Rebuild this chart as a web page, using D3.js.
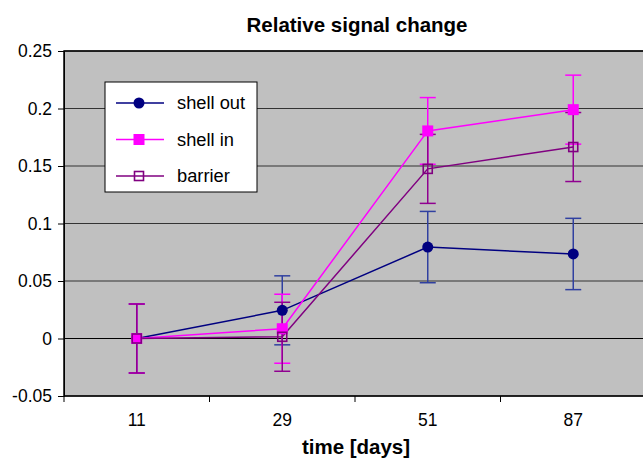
<!DOCTYPE html>
<html><head><meta charset="utf-8">
<script src="https://cdn.jsdelivr.net/npm/d3@7/dist/d3.min.js"></script>
<style>body{margin:0;background:#fff}svg{display:block;font-family:"Liberation Sans",Arial,sans-serif}</style>
</head><body><svg id="c" width="643" height="459"></svg>
<script>
const categories = ["11","29","51","87"];
const shellOut = [0, 0.0245, 0.0795, 0.0735];
const shellIn = [0, 0.0085, 0.1805, 0.199];
const barrier = [0, 0.0015, 0.1475, 0.1665];
const errOut = [0.03, 0.03, 0.031, 0.031];
const errIn = [0.03, 0.03, 0.029, 0.03];
const errBar = [0.03, 0.03, 0.03, 0.03];
const yTicks = [-0.05, 0, 0.05, 0.1, 0.15, 0.2, 0.25];
const yTickLabels = ["-0.05", "0", "0.05", "0.1", "0.15", "0.2", "0.25"];
const seriesNames = ["shell out","shell in","barrier"];

const svg = d3.select("#c");
const L = 64, R = 646, T = 51, B = 396;
const x = d3.scaleBand().domain(categories).range([L, R]);
const y = d3.scaleLinear().domain([-0.05, 0.25]).range([B, T]);

svg.append("rect").attr("x", L).attr("y", T).attr("width", R - L).attr("height", B - T).attr("fill", "#c0c0c0");
svg.append("g").selectAll("line").data(yTicks).join("line")
  .attr("x1", L).attr("x2", R).attr("y1", d => y(d)).attr("y2", d => y(d))
  .attr("stroke", d => d === 0 ? "#000" : "#333").attr("stroke-width", 1.2);
svg.append("rect").attr("x", L).attr("y", T).attr("width", R - L).attr("height", B - T)
  .attr("fill", "none").attr("stroke", "#000").attr("stroke-width", 1.5);

// y axis
const ya = svg.append("g").attr("transform", `translate(${L},0)`)
  .call(d3.axisLeft(y).tickValues(yTicks).tickSize(6).tickPadding(6).tickFormat((d, i) => yTickLabels[i]));
ya.select(".domain").attr("stroke", "#000");
ya.selectAll("text").attr("font-size", 17.5).attr("fill", "#000");
// x axis
const xa = svg.append("g").attr("transform", `translate(0,${B})`)
  .call(d3.axisBottom(x).tickSize(0).tickPadding(18));
xa.select(".domain").remove();
xa.selectAll("text").attr("font-size", 17.5).attr("fill", "#000");
svg.append("g").selectAll("line").data(categories).join("line")
  .attr("x1", d => x(d)).attr("x2", d => x(d)).attr("y1", B).attr("y2", B + 6).attr("stroke", "#000");

const cx = d => x(d) + x.bandwidth() / 2;
const series = [
  {name: seriesNames[0], vals: shellOut, err: errOut, color: "#000080", ecolor: "#3040a0", marker: "circle"},
  {name: seriesNames[1], vals: shellIn, err: errIn, color: "#ff00ff", ecolor: "#ff00ff", marker: "square"},
  {name: seriesNames[2], vals: barrier, err: errBar, color: "#800080", ecolor: "#900090", marker: "hollow"}
];

function drawMarker(g, m, color, px, py) {
  if (m === "circle") g.append("circle").attr("cx", px).attr("cy", py).attr("r", 5.5).attr("fill", color);
  else if (m === "square") g.append("rect").attr("x", px - 5.5).attr("y", py - 5.5).attr("width", 11).attr("height", 11).attr("fill", color);
  else g.append("rect").attr("x", px - 4.5).attr("y", py - 4.5).attr("width", 9).attr("height", 9).attr("fill", "none").attr("stroke", color).attr("stroke-width", 1.6);
}

const eg = svg.append("g");
series.forEach(s => {
  s.vals.forEach((v, i) => {
    const px = cx(categories[i]);
    const hi = y(v + s.err[i]), lo = y(v - s.err[i]);
    eg.append("line").attr("x1", px).attr("x2", px).attr("y1", hi).attr("y2", lo).attr("stroke", s.ecolor).attr("stroke-width", 1.5);
    [hi, lo].forEach(yy => eg.append("line").attr("x1", px - 8).attr("x2", px + 8).attr("y1", yy).attr("y2", yy).attr("stroke", s.ecolor).attr("stroke-width", 1.5));
  });
});
const line = d3.line().x((d, i) => cx(categories[i])).y(d => y(d));
series.forEach(s => {
  svg.append("path").datum(s.vals).attr("d", line).attr("fill", "none").attr("stroke", s.color).attr("stroke-width", 1.5);
});
series.forEach(s => {
  const g = svg.append("g");
  s.vals.forEach((v, i) => drawMarker(g, s.marker, s.color, cx(categories[i]), y(v)));
});

// legend
const lg = svg.append("g");
lg.append("rect").attr("x", 105).attr("y", 82).attr("width", 152).attr("height", 110).attr("fill", "#fff").attr("stroke", "#000").attr("stroke-width", 1);
series.forEach((s, i) => {
  const ly = 103 + i * 36.5;
  lg.append("line").attr("x1", 116).attr("x2", 164).attr("y1", ly).attr("y2", ly).attr("stroke", s.color).attr("stroke-width", 1.5);
  drawMarker(lg, s.marker, s.color, 139, ly);
  lg.append("text").attr("x", 177).attr("y", ly + 6).attr("font-size", 18.3).text(s.name);
});

svg.append("text").attr("x", 357).attr("y", 32).attr("text-anchor", "middle").attr("font-size", 20.5).attr("font-weight", "bold").text("Relative signal change");
svg.append("text").attr("x", 356).attr("y", 454).attr("text-anchor", "middle").attr("font-size", 20.5).attr("font-weight", "bold").text("time [days]");
</script></body></html>
